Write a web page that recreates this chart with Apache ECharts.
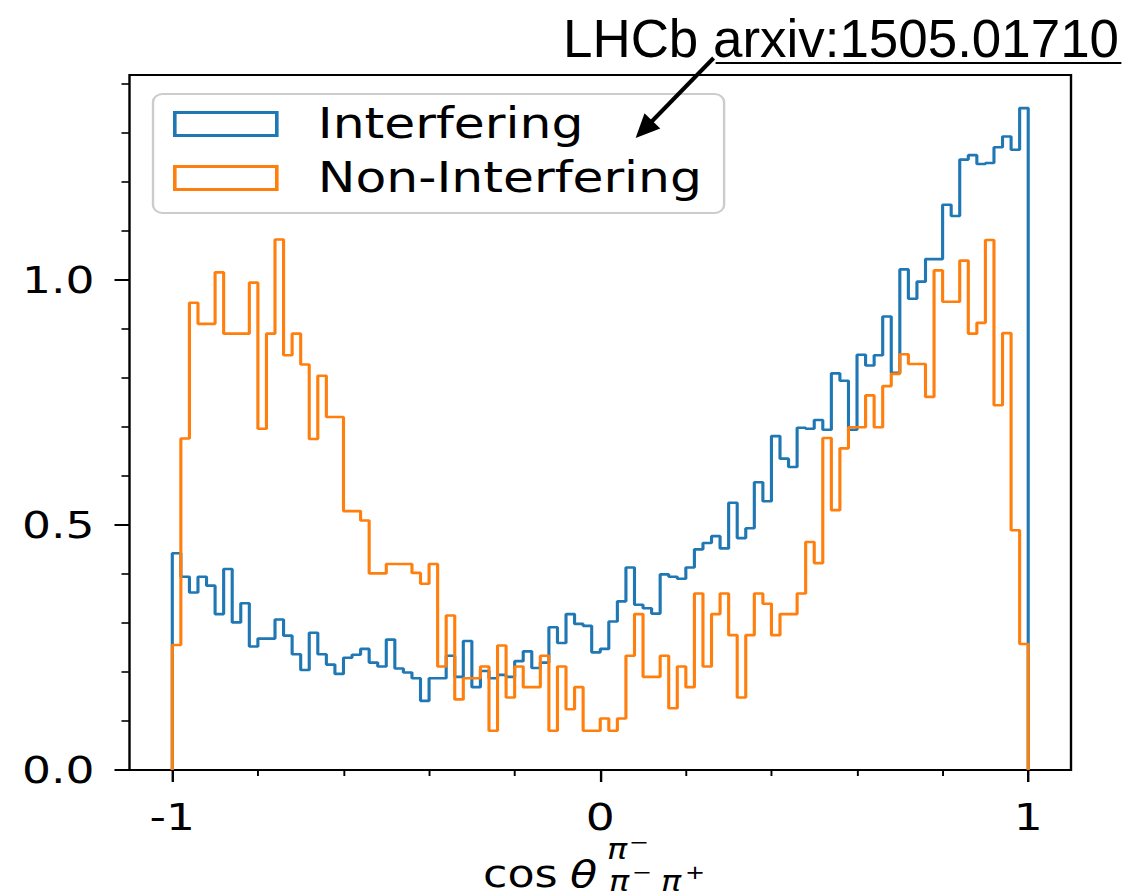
<!DOCTYPE html>
<html>
<head>
<meta charset="utf-8">
<title>cos θ distribution</title>
<script src="https://cdn.jsdelivr.net/npm/echarts@6.0.0/dist/echarts.min.js"></script>
<style>
  html, body { margin: 0; padding: 0; background: #ffffff; overflow: hidden; }
  #stage { width: 1129px; height: 896px; overflow: hidden; }
  /* the figure is drawn at 941px wide and stretched to the page width */
  #chart { width: 941px; height: 896px; transform: scaleX(1.19979); transform-origin: 0 0; }
</style>
</head>
<body>
<div id="stage"><div id="chart"></div></div>
<script>
// Histogram binning: 100 equal bins on [-1, 1]
const binRange = [-1, 1];
const binCount = 100;

// Normalised bin contents, left to right
const interfering = [
  0.442, 0.394, 0.362, 0.394, 0.376, 0.318, 0.410, 0.301, 0.340, 0.252,
  0.268, 0.268, 0.307, 0.274, 0.236, 0.204, 0.280, 0.236, 0.215, 0.196,
  0.229, 0.235, 0.247, 0.219, 0.211, 0.266, 0.207, 0.199, 0.187, 0.141,
  0.187, 0.187, 0.233, 0.190, 0.263, 0.169, 0.202, 0.187, 0.194, 0.190,
  0.222, 0.242, 0.208, 0.219, 0.291, 0.259, 0.318, 0.298, 0.294, 0.240,
  0.247, 0.303, 0.344, 0.413, 0.337, 0.330, 0.319, 0.399, 0.394, 0.390,
  0.413, 0.450, 0.463, 0.477, 0.452, 0.545, 0.473, 0.493, 0.587, 0.548,
  0.681, 0.635, 0.618, 0.698, 0.696, 0.714, 0.694, 0.809, 0.794, 0.694,
  0.847, 0.825, 0.846, 0.925, 0.810, 1.021, 0.961, 0.996, 1.042, 1.042,
  1.153, 1.130, 1.245, 1.254, 1.236, 1.238, 1.270, 1.292, 1.265, 1.350
];
const nonInterfering = [
  0.255, 0.676, 0.953, 0.910, 0.910, 1.015, 0.890, 0.890, 0.890, 0.994,
  0.696, 0.890, 1.082, 0.846, 0.890, 0.827, 0.675, 0.804, 0.720, 0.720,
  0.528, 0.528, 0.509, 0.401, 0.401, 0.420, 0.420, 0.420, 0.402, 0.380,
  0.420, 0.211, 0.315, 0.144, 0.187, 0.187, 0.211, 0.080, 0.254, 0.148,
  0.211, 0.169, 0.169, 0.233, 0.080, 0.211, 0.124, 0.169, 0.080, 0.080,
  0.105, 0.080, 0.105, 0.233, 0.318, 0.190, 0.190, 0.233, 0.126, 0.211,
  0.169, 0.360, 0.211, 0.318, 0.360, 0.275, 0.148, 0.275, 0.360, 0.339,
  0.275, 0.318, 0.318, 0.360, 0.465, 0.422, 0.677, 0.530, 0.656, 0.699,
  0.699, 0.764, 0.699, 0.783, 0.808, 0.848, 0.828, 0.828, 0.761, 1.019,
  0.955, 0.955, 1.039, 0.890, 0.912, 1.081, 0.744, 0.891, 0.489, 0.257
];

const seriesNames = ['Interfering', 'Non-Interfering'];
const seriesColors = ['#1f77b4', '#ff7f0e'];

// Tick positions and labels
const xMajorTicks = [-1, 0, 1];
const xMinorTicks = [-0.8, -0.6, -0.4, -0.2, 0.2, 0.4, 0.6, 0.8];
const yMajorTicks = [0, 0.5, 1.0];
const yMinorTicks = [0.1, 0.2, 0.3, 0.4, 0.6, 0.7, 0.8, 0.9, 1.1, 1.2, 1.3, 1.4];

const titleText = 'LHCb arxiv:1505.01710';

// ---------------------------------------------------------------------------
const SX = 1129 / 941;           // horizontal stretch applied by CSS
const px = v => v / SX;          // page x -> chart x
const binWidth = (binRange[1] - binRange[0]) / binCount;
const pad = 0.05 * (binRange[1] - binRange[0]);
const yTop = Math.max(...interfering, ...nonInterfering) * 1.05;

// Step outline of a histogram: up from the baseline at the first edge,
// across every bin, and back down at the last edge.
function stepOutline(values) {
  const pts = [[binRange[0], 0]];
  values.forEach((v, i) => pts.push([binRange[0] + i * binWidth, v]));
  pts.push([binRange[1], values[values.length - 1]]);
  pts.push([binRange[1], 0]);
  return pts;
}

const FONT = '"DejaVu Sans", "Noto Sans", sans-serif';
const tickLabelStyle = { color: '#000', fontFamily: FONT, fontSize: 38 };

function axisBase(extra) {
  return Object.assign({
    type: 'value',
    gridIndex: 0,
    axisLine: { show: false, onZero: false },
    splitLine: { show: false }
  }, extra);
}

// x-axis title: cos θ with π⁻ superscript and π⁻π⁺ subscript
function mathText(x, y, text, size, italic) {
  return {
    type: 'text', x: px(x), y: y, silent: true,
    style: {
      text: text, fill: '#000',
      font: (italic ? 'italic ' : '') + size + 'px ' + FONT,
      align: 'left', verticalAlign: 'middle',
      textAlign: 'left', textVerticalAlign: 'middle'
    }
  };
}
const xTitle = [
  mathText(483, 874, 'cos', 37, false),
  mathText(570, 874, 'θ', 37, true),
  mathText(607, 849, 'π', 28, true),
  mathText(629, 842, '−', 20, false),
  mathText(609, 881, 'π', 28, true),
  mathText(632, 872, '−', 20, false),
  mathText(661, 881, 'π', 28, true),
  mathText(685, 872, '+', 20, false)
];

// Reference note with an arrow, laid out in page pixels
const arrowFrom = [714, 58];
const arrowTip = [636, 138];
const headLen = 24, headHalf = 11;
const dx = arrowTip[0] - arrowFrom[0], dy = arrowTip[1] - arrowFrom[1];
const dl = Math.hypot(dx, dy);
const ux = dx / dl, uy = dy / dl;
const base = [arrowTip[0] - ux * headLen, arrowTip[1] - uy * headLen];
const note = {
  type: 'group', x: 0, y: 0, scaleX: 1 / SX, silent: true, z: 100,
  children: [
    {
      type: 'text', x: 563, y: 38, scaleX: 0.98, z: 100,
      style: {
        text: titleText, fill: '#000',
        font: '54px "Liberation Sans", Arimo, Arial, sans-serif',
        align: 'left', verticalAlign: 'middle',
        textAlign: 'left', textVerticalAlign: 'middle'
      }
    },
    {
      type: 'line', z: 100,
      shape: { x1: 716, y1: 63, x2: 1122, y2: 63 },
      style: { stroke: '#000', lineWidth: 2 }
    },
    {
      type: 'line', z: 100,
      shape: { x1: arrowFrom[0], y1: arrowFrom[1], x2: base[0] + ux * 2, y2: base[1] + uy * 2 },
      style: { stroke: '#000', lineWidth: 4 }
    },
    {
      type: 'polygon', z: 100,
      shape: {
        points: [
          arrowTip,
          [base[0] - uy * headHalf, base[1] + ux * headHalf],
          [base[0] + uy * headHalf, base[1] - ux * headHalf]
        ]
      },
      style: { fill: '#000' }
    }
  ]
};

const chart = echarts.init(document.getElementById('chart'), null, { renderer: 'svg' });

chart.setOption({
  animation: false,
  backgroundColor: '#ffffff',
  grid: {
    show: true,
    left: px(129.5), right: 941 - px(1071), top: 75, bottom: 126,
    borderColor: '#000', borderWidth: 2,
    backgroundColor: 'transparent',
    containLabel: false,
    outerBoundsMode: 'none'
  },
  xAxis: [
    axisBase({
      min: binRange[0] - pad, max: binRange[1] + pad, position: 'bottom',
      axisTick: { show: true, customValues: xMajorTicks, length: 12, lineStyle: { color: '#000', width: 2 } },
      axisLabel: Object.assign({ customValues: xMajorTicks, margin: 28, formatter: v => String(v) }, tickLabelStyle)
    }),
    axisBase({
      min: binRange[0] - pad, max: binRange[1] + pad, position: 'bottom',
      axisTick: { show: true, customValues: xMinorTicks, length: 6, lineStyle: { color: '#000', width: 1.6 } },
      axisLabel: { show: false }
    })
  ],
  yAxis: [
    axisBase({
      min: 0, max: yTop, position: 'left',
      axisTick: { show: true, customValues: yMajorTicks, length: px(15), lineStyle: { color: '#000', width: 2 } },
      axisLabel: Object.assign({ customValues: yMajorTicks, margin: px(35), formatter: v => v.toFixed(1) }, tickLabelStyle)
    }),
    axisBase({
      min: 0, max: yTop, position: 'left',
      axisTick: { show: true, customValues: yMinorTicks, length: px(8), lineStyle: { color: '#000', width: 1.6 } },
      axisLabel: { show: false }
    })
  ],
  legend: {
    orient: 'vertical',
    left: px(153), top: 94,
    icon: 'rect',
    itemWidth: px(102), itemHeight: 23,
    itemGap: 10,
    padding: [8, px(22), 13, px(20)],
    backgroundColor: 'rgba(255,255,255,0.8)',
    borderColor: '#cccccc', borderWidth: 2, borderRadius: 8,
    selectedMode: false,
    textStyle: { color: '#000', fontFamily: FONT, fontSize: 42, lineHeight: 44, padding: [0, 0, 0, px(35)] },
    data: seriesNames.map((name, i) => ({
      name: name,
      itemStyle: { color: 'rgba(255,255,255,0)', borderColor: seriesColors[i], borderWidth: 3 }
    }))
  },
  series: [interfering, nonInterfering].map((values, i) => ({
    name: seriesNames[i],
    type: 'line',
    xAxisIndex: 0, yAxisIndex: 0,
    step: 'end',
    symbol: 'none', showSymbol: false,
    color: seriesColors[i],
    lineStyle: { color: seriesColors[i], width: 2.6 },
    z: 2 + i,
    data: stepOutline(values)
  })),
  graphic: { elements: xTitle.concat([note]) }
});
</script>
</body>
</html>
